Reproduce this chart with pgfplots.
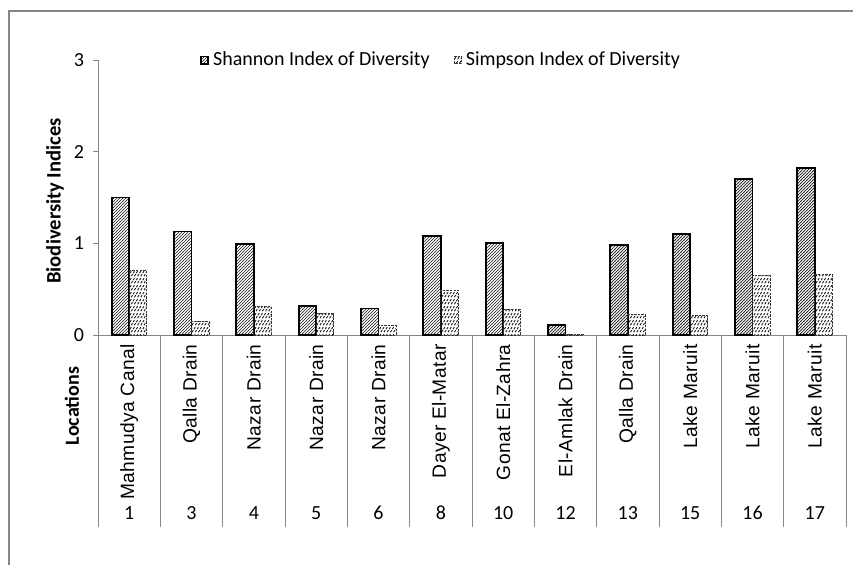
\documentclass[border=0pt]{standalone}
\usepackage{pgfplots}
\pgfplotsset{compat=1.18}
\usepackage{fontspec}
\setmainfont{Carlito}
\newfontfamily\arialf[LetterSpace=2]{Liberation Sans}
\newcommand{\cl}[1]{{\arialf\fontsize{9.6}{11}\selectfont #1}}
\usetikzlibrary{patterns}
\pgfdeclarepatternformonly{densehatch}{\pgfqpoint{-0.5pt}{-0.5pt}}{\pgfqpoint{2pt}{2pt}}{\pgfqpoint{1.5pt}{1.5pt}}{%
  \pgfsetlinewidth{0.35pt}%
  \pgfpathmoveto{\pgfqpoint{-0.2pt}{-0.2pt}}%
  \pgfpathlineto{\pgfqpoint{1.7pt}{1.7pt}}%
  \pgfusepath{stroke}}
\pgfdeclarepatternformonly{dashdiag}{\pgfqpoint{-0.5pt}{-0.5pt}}{\pgfqpoint{2.1pt}{4pt}}{\pgfqpoint{1.6pt}{3.5pt}}{%
  \pgfsetlinewidth{0.45pt}%
  \pgfpathmoveto{\pgfqpoint{0pt}{0.4pt}}%
  \pgfpathlineto{\pgfqpoint{1.6pt}{2.9pt}}%
  \pgfusepath{stroke}}
\definecolor{axgray}{RGB}{134,134,134}
\begin{document}
\begin{tikzpicture}
\useasboundingbox (0,0) rectangle (426.5pt,282pt);
\fill[white] (0,0) rectangle (426.5pt,282pt);
\draw[axgray,line width=0.6pt] (4.5pt,-2pt) -- (4.5pt,276.5pt) -- (430pt,276.5pt);
\begin{axis}[
  at={(49pt,114.5pt)}, anchor=south west,
  scale only axis, width=374pt, height=137.5pt,
  xmin=0.5, xmax=12.5, ymin=0, ymax=3,
  clip=false,
  axis x line*=bottom, axis y line*=left,
  axis line style={draw=axgray, line width=0.5pt},
  ybar=0pt, bar width=8.75pt,
  xtick={1,...,12},
  xticklabels={\cl{Mahmudya Canal},\cl{Qalla Drain},\cl{Nazar Drain},\cl{Nazar Drain},\cl{Nazar Drain},\cl{Dayer El-Matar},\cl{Gonat El-Zahra},\cl{El-Amlak Drain},\cl{Qalla Drain},\cl{Lake Maruit},\cl{Lake Maruit},\cl{Lake Maruit}},
  xtick style={draw=none},
  xticklabel style={yshift=-2pt, rotate=90, anchor=east, inner sep=0pt},
  ytick={0,1,2,3},
  ytick style={draw=axgray, line width=0.5pt},
  tick align=outside, major tick length=2.5pt,
  yticklabel style={font=\fontsize{10}{12}\selectfont, xshift=-1pt},
  /pgf/number format/assume math mode=true,
  legend style={draw=none, fill=none, at={(0.46,1)}, anchor=center,
    font=\fontsize{10}{12}\selectfont,
    /tikz/every even column/.append style={column sep=10pt},
    inner sep=0pt},
  legend columns=2, legend cell align=left,
  legend image code/.code={\draw[#1] (0pt,-1.8pt) rectangle (3.6pt,1.8pt);},
]
\addplot[draw=black, line width=0.9pt, pattern=densehatch, pattern color=black!85]
  coordinates {(1,1.50) (2,1.13) (3,0.99) (4,0.32) (5,0.29) (6,1.08) (7,1.00) (8,0.11) (9,0.98) (10,1.10) (11,1.70) (12,1.82)};
\addlegendentry{Shannon Index of Diversity}
\addplot[draw=black!80, line width=0.5pt, dash pattern=on 1.2pt off 0.6pt, pattern=dashdiag, pattern color=black!90]
  coordinates {(1,0.70) (2,0.15) (3,0.31) (4,0.24) (5,0.10) (6,0.49) (7,0.28) (8,0.01) (9,0.225) (10,0.21) (11,0.65) (12,0.66)};
\addlegendentry{Simpson Index of Diversity}
\pgfplotsinvokeforeach{0.5,1.5,2.5,3.5,4.5,5.5,6.5,7.5,8.5,9.5,10.5,11.5,12.5}{
  \draw[axgray, line width=0.5pt] (axis cs:#1,0) -- (axis cs:#1,-2.094);
}
\node[font=\fontsize{10}{12}\selectfont] at (axis cs:1,-1.94) {1};
\node[font=\fontsize{10}{12}\selectfont] at (axis cs:2,-1.94) {3};
\node[font=\fontsize{10}{12}\selectfont] at (axis cs:3,-1.94) {4};
\node[font=\fontsize{10}{12}\selectfont] at (axis cs:4,-1.94) {5};
\node[font=\fontsize{10}{12}\selectfont] at (axis cs:5,-1.94) {6};
\node[font=\fontsize{10}{12}\selectfont] at (axis cs:6,-1.94) {8};
\node[font=\fontsize{10}{12}\selectfont] at (axis cs:7,-1.94) {10};
\node[font=\fontsize{10}{12}\selectfont] at (axis cs:8,-1.94) {12};
\node[font=\fontsize{10}{12}\selectfont] at (axis cs:9,-1.94) {13};
\node[font=\fontsize{10}{12}\selectfont] at (axis cs:10,-1.94) {15};
\node[font=\fontsize{10}{12}\selectfont] at (axis cs:11,-1.94) {16};
\node[font=\fontsize{10}{12}\selectfont] at (axis cs:12,-1.94) {17};
\end{axis}
\node[rotate=90, font=\bfseries\fontsize{10.3}{12}\selectfont] at (27.5pt,181.5pt) {Biodiversity Indices};
\node[rotate=90, font=\bfseries\fontsize{10}{12}\selectfont] at (36pt,79pt) {Locations};
\end{tikzpicture}
\end{document}
